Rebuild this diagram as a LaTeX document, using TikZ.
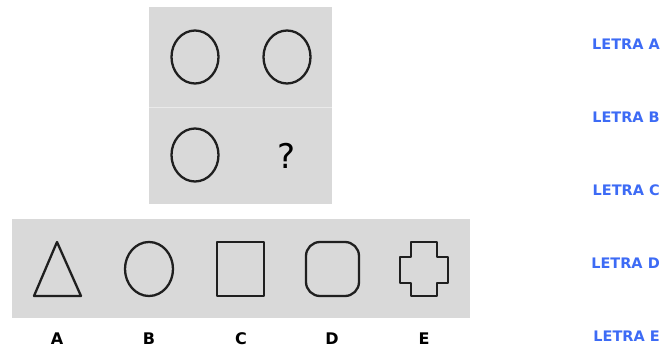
\documentclass[tikz,border=0pt]{standalone}
\usepackage{fontspec}
\setmainfont{DejaVu Sans}
\usetikzlibrary{shapes.geometric}
\definecolor{panel}{HTML}{D9D9D9}
\definecolor{letra}{HTML}{3D6BF5}
\tikzset{
  panelbox/.style={fill=panel,draw=none},
  fig/.style={draw=black!88,line width=2.3pt,line join=round},
  oval/.style={fig,ellipse,minimum width=47pt,minimum height=53pt,inner sep=0pt},
  opt/.style={font=\bfseries\fontsize{16}{16}\selectfont,text=black,inner sep=0pt},
  answer/.style={font=\bfseries\fontsize{14.5}{14.5}\selectfont,text=letra,anchor=east,inner sep=0pt}
}
\begin{document}
\begin{tikzpicture}[x=1pt,y=-1pt]
\useasboundingbox (0,0) rectangle (662,350);
% top panel
\fill[panelbox] (149,7) rectangle (332,204);
\draw[panel!55!white,line width=0.5pt] (149,107) -- (332,107);
\node[oval] (c1) at (195,57) {};
\node[oval] (c2) at (287,57) {};
\node[oval] (c3) at (195,155) {};
\node[font=\fontsize{34}{34}\selectfont,inner sep=0pt] (q) at (287,156) {?};
% bottom panel
\fill[panelbox] (12,219) rectangle (470,318);
\draw[fig] (57,242) -- (81,296) -- (34,296) -- cycle;
\node[oval,minimum width=48pt,minimum height=54pt] (ob) at (149,269) {};
\draw[fig] (217,242) rectangle (264,296);
\draw[fig,rounded corners=14pt] (306,242) rectangle (359,296);
\draw[fig] (411,242) -- (437,242) -- (437,257) -- (448,257) -- (448,283) -- (437,283)
  -- (437,296) -- (411,296) -- (411,283) -- (400,283) -- (400,257) -- (411,257) -- cycle;
\node[opt] (la) at (57,339) {A};
\node[opt] (lb) at (149,339) {B};
\node[opt] (lc) at (241,339) {C};
\node[opt] (ld) at (332,339) {D};
\node[opt] (le) at (424,339) {E};
% answers
\node[answer] (ra) at (660,44) {LETRA A};
\node[answer] (rb) at (660,117) {LETRA B};
\node[answer] (rc) at (660,190) {LETRA C};
\node[answer] (rd) at (660,263) {LETRA D};
\node[answer] (re) at (660,336) {LETRA E};
\end{tikzpicture}
\end{document}
